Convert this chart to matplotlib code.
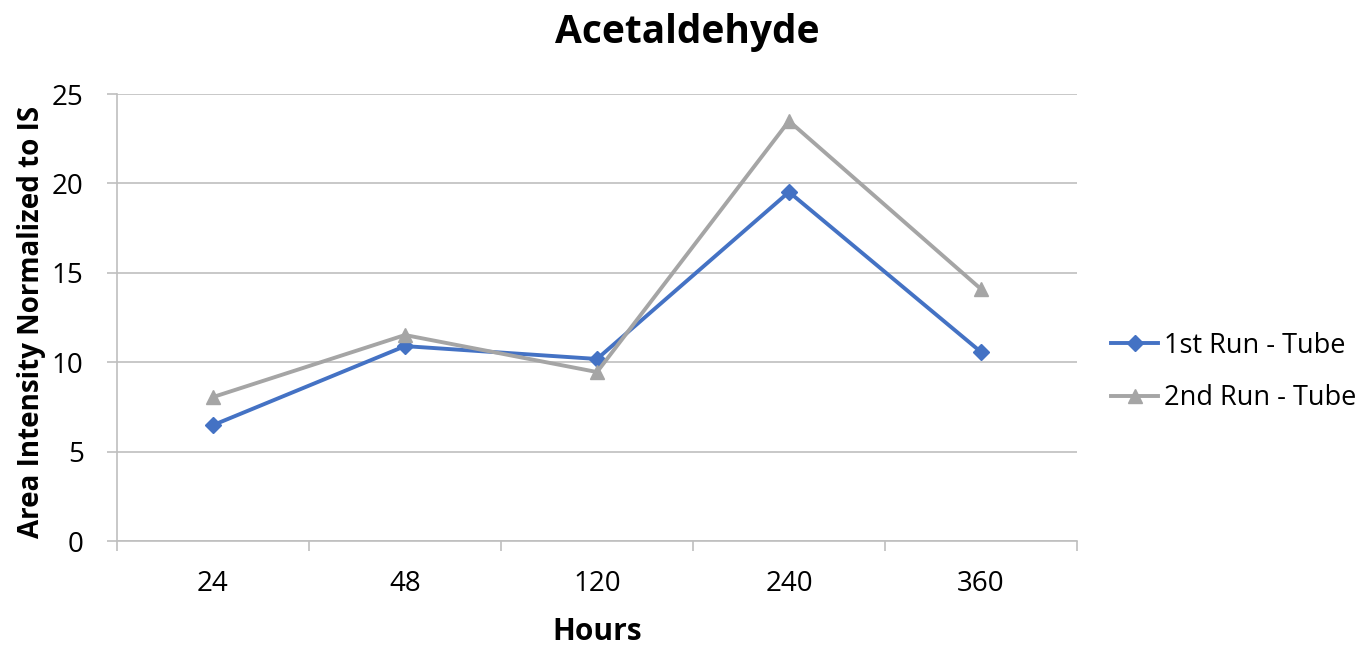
import numpy as np
import matplotlib
matplotlib.use("Agg")
import matplotlib.pyplot as plt
from matplotlib.ticker import FixedLocator

hours = ["24", "48", "120", "240", "360"]
run1 = [6.48, 10.9, 10.18, 19.52, 10.57]
run2 = [8.05, 11.52, 9.45, 23.49, 14.09]

plt.rcParams['font.family'] = ['Open Sans', 'DejaVu Sans']
axis_grey = '#BFBFBF'

fig = plt.figure(figsize=(13.69, 6.48), dpi=100)
ax = fig.add_axes([117 / 1369, 1 - 541 / 648, 960 / 1369, 447 / 648])

x = np.arange(len(hours))
ax.plot(x, run1, color='#4472C4', lw=2.8, marker='D', ms=8.5, label='1st Run - Tube', zorder=3)
ax.plot(x, run2, color='#A5A5A5', lw=2.8, marker='^', ms=10.5, label='2nd Run - Tube', zorder=4)

ax.set_xlim(-0.5, len(hours) - 0.5)
ax.set_ylim(0, 25)
ax.set_yticks(range(0, 26, 5))
ax.set_xticks(x)
ax.set_xticklabels(hours)
ax.xaxis.set_minor_locator(FixedLocator(np.arange(-0.5, len(hours), 1.0)))
ax.tick_params(axis='x', which='major', length=0, pad=21, labelsize=20)
ax.tick_params(axis='x', which='minor', length=7, color=axis_grey, width=1.2)
ax.tick_params(axis='y', length=7, color=axis_grey, width=1.2, pad=17, labelsize=20)

ax.grid(axis='y', color=axis_grey, lw=1.2)
ax.set_axisbelow(True)
for s in ['top', 'right']:
    ax.spines[s].set_visible(False)
for s in ['bottom', 'left']:
    ax.spines[s].set_color(axis_grey)
    ax.spines[s].set_linewidth(1.2)

fig.text(0.502, 1 - 32 / 648, 'Acetaldehyde', fontsize=28, fontweight='bold',
         ha='center', va='center')
ax.set_xlabel('Hours', fontsize=21.5, fontweight='bold')
ax.xaxis.set_label_coords(0.5, (541 - 632) / 447)
ax.xaxis.label.set_va('center')
ax.set_ylabel('Area Intensity Normalized to IS', fontsize=20, fontweight='bold')
ax.yaxis.set_label_coords((32 - 117) / 960, 0.49)
ax.yaxis.label.set_va('center')

ax.legend(loc='center left', bbox_to_anchor=(1111 / 1369, 1 - 372 / 648),
          bbox_transform=fig.transFigure, frameon=False, borderpad=0, borderaxespad=0,
          fontsize=19.5, handlelength=1.75, labelspacing=0.9, handletextpad=0.2)

fig.savefig('out.png', dpi=100)
